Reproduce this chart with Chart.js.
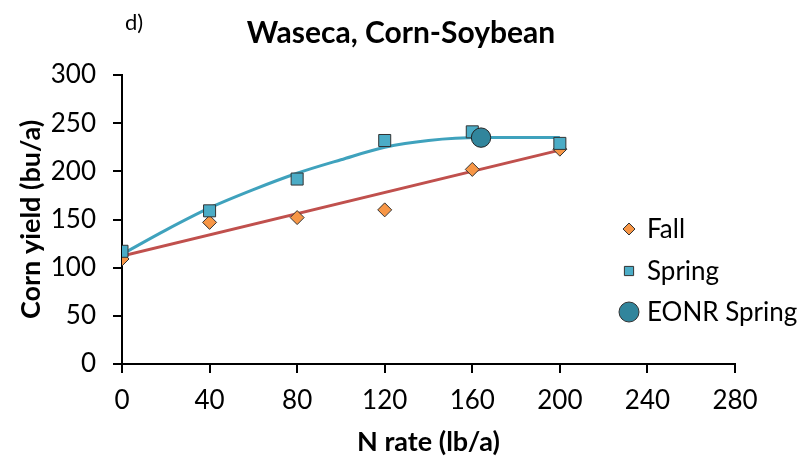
<!DOCTYPE html>
<html>
<head>
<meta charset="utf-8">
<script src="https://cdn.jsdelivr.net/npm/chart.js@4/dist/chart.umd.min.js"></script>
<style>
html,body{margin:0;padding:0;background:#fff;}
#wrap{width:809px;height:458px;position:relative;}
</style>
</head>
<body>
<div id="wrap"><canvas id="c" width="809" height="458"></canvas></div>
<script>
// ---- data ----
const nRates = [0, 40, 80, 120, 160, 200];
const fallYield = [109, 147, 152, 160, 202, 223];
const springYield = [117, 159, 192, 232, 241, 229];
const fallFitX = [0, 200];
const fallFitY = [112, 222];
const springFitX = [0, 20, 40, 60, 80, 100, 120, 140, 164, 200];
const springFitY = [114, 139, 162, 181, 198, 212, 225, 232, 235, 235];
const eonrX = [164];
const eonrY = [235];
const xTicks = [0, 40, 80, 120, 160, 200, 240, 280];
const yTicks = [0, 50, 100, 150, 200, 250, 300];
const chartTitle = 'Waseca, Corn-Soybean';
const panelLabel = 'd)';
const xTitle = 'N rate (lb/a)';
const yTitle = 'Corn yield (bu/a)';
const legendLabels = ['Fall', 'Spring', 'EONR Spring'];

const FONT = 'Lato, "Open Sans", sans-serif';
const pts = (xs, ys) => xs.map((x, i) => ({x: x, y: ys[i]}));

const C_FALL = '#F79646', C_SPRING = '#4BACC6', C_EONR = '#31859C';
const C_FALL_LINE = '#C0504D', C_SPRING_LINE = '#3FA2BD';

const overlay = {
  id: 'overlay',
  afterDraw(chart) {
    const ctx = chart.ctx;
    ctx.save();
    ctx.fillStyle = '#000';
    ctx.textBaseline = 'middle';
    // panel label
    ctx.font = '22px ' + FONT;
    ctx.textAlign = 'left';
    ctx.fillText(panelLabel, 125, 23);
    // title
    ctx.font = 'bold 30px ' + FONT;
    ctx.textAlign = 'center';
    ctx.fillText(chartTitle, 401, 33);
    // legend
    const items = [
      {style: 'rectRot', r: 6, color: C_FALL, y: 229},
      {style: 'rect', r: 6.5, color: C_SPRING, y: 271},
      {style: 'circle', r: 10, color: C_EONR, y: 312}
    ];
    items.forEach((it, i) => {
      ctx.fillStyle = it.color;
      ctx.strokeStyle = '#333';
      ctx.lineWidth = 1;
      Chart.helpers.drawPoint(ctx, {pointStyle: it.style, radius: it.r, borderWidth: 1}, 629, it.y);
      ctx.fillStyle = '#000';
      ctx.font = '26px ' + FONT;
      ctx.textAlign = 'left';
      ctx.fillText(legendLabels[i], 647, it.y + 1);
    });
    ctx.restore();
  }
};

new Chart(document.getElementById('c'), {
  type: 'scatter',
  data: {
    datasets: [
      {label: 'Fall fit', data: pts(fallFitX, fallFitY), showLine: true, borderColor: C_FALL_LINE, borderWidth: 3, pointRadius: 0, order: 5},
      {label: 'Spring fit', data: pts(springFitX, springFitY), showLine: true, borderColor: C_SPRING_LINE, borderWidth: 3, pointRadius: 0, cubicInterpolationMode: 'monotone', order: 4},
      {label: 'Fall', data: pts(nRates, fallYield), pointStyle: 'rectRot', pointRadius: 7, backgroundColor: C_FALL, borderColor: '#333', borderWidth: 1, order: 3},
      {label: 'Spring', data: pts(nRates, springYield), pointStyle: 'rect', pointRadius: 8.5, backgroundColor: C_SPRING, borderColor: '#333', borderWidth: 1, order: 2},
      {label: 'EONR Spring', data: pts(eonrX, eonrY), pointStyle: 'circle', pointRadius: 9.7, backgroundColor: C_EONR, borderColor: '#222', borderWidth: 1, order: 1}
    ]
  },
  options: {
    responsive: false,
    animation: false,
    events: [],
    layout: {padding: {left: 0, top: 75, right: 74, bottom: 0}},
    plugins: {legend: {display: false}, title: {display: false}, tooltip: {enabled: false}},
    scales: {
      x: {
        type: 'linear', min: 0, max: 280,
        afterFit(s) { s.height = 94; },
        afterBuildTicks(s) { s.ticks = xTicks.map(v => ({value: v})); },
        border: {color: '#000', width: 2},
        grid: {drawOnChartArea: false, drawTicks: true, tickLength: 9, color: '#000', lineWidth: 2},
        ticks: {color: '#000', font: {family: FONT, size: 26}, padding: 12, maxRotation: 0},
        title: {display: true, text: xTitle, color: '#000', font: {family: FONT, size: 27, weight: 'bold'}, padding: {top: 0, bottom: 0}}
      },
      y: {
        type: 'linear', min: 0, max: 300,
        afterFit(s) { s.width = 122; },
        afterBuildTicks(s) { s.ticks = yTicks.map(v => ({value: v})); },
        border: {color: '#000', width: 2},
        grid: {drawOnChartArea: false, drawTicks: true, tickLength: 9, color: '#000', lineWidth: 2},
        ticks: {color: '#000', font: {family: FONT, size: 26}, padding: 17},
        title: {display: true, text: yTitle, color: '#000', font: {family: FONT, size: 27, weight: 'bold'}, padding: {top: 15, bottom: 0}}
      }
    }
  },
  plugins: [overlay]
});
</script>
</body>
</html>
